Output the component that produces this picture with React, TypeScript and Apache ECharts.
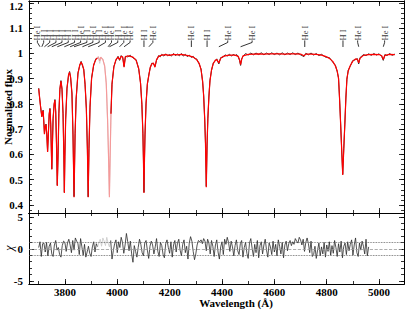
import React, { useEffect, useRef } from "react";
import * as echarts from "echarts";

// ---------- axis ranges / ticks ----------
const XMIN = 3663;
const XMAX = 5095;
const FMIN = 0.368;
const FMAX = 1.207;
const RMIN = -5.5;
const RMAX = 5.6;
const xMajor = [3800, 4000, 4200, 4400, 4600, 4800, 5000];
const xMinor = [3700, 3800, 3900, 4000, 4100, 4200, 4300, 4400, 4500, 4600, 4700, 4800, 4900, 5000];
const fluxTicks = [0.4, 0.5, 0.6, 0.7, 0.8, 0.9, 1, 1.1, 1.2];
const resTicks = [-5, 0, 5];
const resMinorTicks = [-5, -4, -3, -2, -1, 0, 1, 2, 3, 4, 5];

// ---------- model spectrum (red) ----------
const modelWave = [
  3700, 3704, 3707, 3709, 3712, 3715, 3717, 3719, 3722, 3725, 3728, 3731, 3734, 3737, 3740, 3743, 3746, 3748, 3750, 3752,
  3755, 3759, 3762, 3765, 3768, 3771, 3774, 3777, 3781, 3785, 3789, 3793, 3796, 3798, 3800, 3803, 3808, 3814, 3818, 3822,
  3827, 3831, 3835, 3839, 3843, 3850, 3857, 3862, 3867, 3872, 3877, 3882, 3886, 3889, 3892, 3896, 3902, 3910, 3918, 3924,
  3928, 3933, 3937, 3945, 3952, 3958, 3963, 3967, 3970, 3973, 3976, 3980, 3987, 3995, 4003, 4009, 4015, 4021, 4026, 4031,
  4040, 4050, 4060, 4072, 4082, 4089, 4094, 4098, 4100, 4102, 4104, 4106, 4110, 4115, 4121, 4126, 4132, 4138, 4144, 4150,
  4158, 4170, 4185, 4200, 4215, 4230, 4245, 4260, 4275, 4290, 4303, 4313, 4320, 4326, 4330, 4334, 4337, 4340, 4343, 4346,
  4350, 4354, 4360, 4367, 4374, 4380, 4388, 4395, 4405, 4420, 4437, 4450, 4462, 4467, 4471, 4475, 4480, 4500, 4520, 4540,
  4560, 4580, 4600, 4620, 4640, 4660, 4680, 4700, 4713, 4720, 4740, 4760, 4780, 4795, 4810, 4823, 4833, 4840, 4845, 4849,
  4853, 4857, 4861, 4865, 4869, 4873, 4877, 4882, 4889, 4899, 4910, 4917, 4922, 4927, 4940, 4960, 4980, 5000, 5010, 5016,
  5022, 5040, 5060,
];
const modelFlux = [
  0.86, 0.82, 0.79, 0.775, 0.748, 0.77, 0.772, 0.74, 0.68, 0.712, 0.718, 0.68, 0.61, 0.68, 0.76, 0.78, 0.72, 0.63, 0.54, 0.62,
  0.74, 0.8, 0.815, 0.77, 0.64, 0.475, 0.6, 0.76, 0.86, 0.89, 0.86, 0.76, 0.6, 0.447, 0.59, 0.74, 0.86, 0.915, 0.925, 0.905,
  0.84, 0.68, 0.43, 0.68, 0.82, 0.92, 0.955, 0.965, 0.955, 0.935, 0.88, 0.78, 0.62, 0.43, 0.62, 0.79, 0.9, 0.955, 0.975, 0.982,
  0.985, 0.97, 0.985, 0.975, 0.95, 0.88, 0.74, 0.58, 0.43, 0.6, 0.76, 0.88, 0.945, 0.975, 0.985, 0.975, 0.988, 0.985, 0.945, 0.985,
  0.99, 0.988, 0.985, 0.972, 0.94, 0.88, 0.8, 0.68, 0.58, 0.447, 0.58, 0.68, 0.8, 0.88, 0.915, 0.945, 0.958, 0.962, 0.945, 0.975,
  0.988, 0.993, 0.995, 0.992, 0.996, 0.994, 0.996, 0.993, 0.99, 0.985, 0.975, 0.96, 0.935, 0.89, 0.83, 0.74, 0.64, 0.47, 0.64, 0.74,
  0.83, 0.89, 0.935, 0.96, 0.972, 0.975, 0.962, 0.98, 0.988, 0.992, 0.993, 0.993, 0.988, 0.975, 0.955, 0.975, 0.99, 0.996, 0.997, 0.998,
  0.997, 0.998, 0.998, 0.998, 0.997, 0.998, 0.998, 0.997, 0.99, 0.997, 0.997, 0.996, 0.993, 0.988, 0.98, 0.968, 0.95, 0.93, 0.9, 0.82,
  0.72, 0.62, 0.518, 0.62, 0.72, 0.82, 0.9, 0.93, 0.95, 0.968, 0.978, 0.976, 0.962, 0.98, 0.992, 0.995, 0.996, 0.995, 0.99, 0.975,
  0.992, 0.996, 0.995,
];

// ---------- observed spectrum (black) ----------
const obsWave = [
  3700, 3704, 3707, 3709, 3712, 3715, 3717, 3719, 3722, 3725, 3728, 3731, 3734, 3737, 3740, 3743, 3746, 3748, 3750, 3752,
  3755, 3759, 3762, 3765, 3768, 3771, 3774, 3777, 3781, 3785, 3789, 3793, 3796, 3798, 3800, 3803, 3808, 3814, 3818, 3822,
  3827, 3831, 3835, 3839, 3843, 3850, 3857, 3862, 3867, 3872, 3877, 3882, 3886, 3889, 3892, 3896, 3902, 3910, 3918, 3924,
  3928, 3933, 3937, 3945, 3952, 3958, 3963, 3967, 3970, 3973, 3976, 3980, 3987, 3995, 4003, 4009, 4015, 4021, 4026, 4031,
  4040, 4050, 4060, 4072, 4082, 4089, 4094, 4098, 4100, 4102, 4104, 4106, 4110, 4115, 4121, 4126, 4132, 4138, 4144, 4150,
  4158, 4164, 4170, 4178, 4185, 4192, 4200, 4207, 4215, 4222, 4230, 4237, 4245, 4252, 4260, 4267, 4275, 4282, 4290, 4296,
  4303, 4313, 4320, 4326, 4330, 4334, 4337, 4340, 4343, 4346, 4350, 4354, 4360, 4367, 4374, 4380, 4388, 4395, 4405, 4412,
  4420, 4428, 4437, 4444, 4450, 4456, 4462, 4467, 4471, 4475, 4480, 4490, 4500, 4510, 4520, 4530, 4540, 4550, 4560, 4570,
  4580, 4590, 4600, 4610, 4620, 4630, 4640, 4650, 4660, 4670, 4680, 4690, 4700, 4713, 4720, 4730, 4740, 4750, 4760, 4770,
  4780, 4795, 4810, 4823, 4833, 4840, 4845, 4849, 4853, 4857, 4861, 4865, 4869, 4873, 4877, 4882, 4889, 4899, 4910, 4917,
  4922, 4927, 4935, 4940, 4950, 4960, 4970, 4980, 4990, 5000, 5010, 5016, 5022, 5030, 5040, 5050, 5060,
];
const obsFlux = [
  0.862, 0.818, 0.792, 0.772, 0.75, 0.768, 0.775, 0.738, 0.683, 0.71, 0.72, 0.677, 0.612, 0.683, 0.757, 0.782, 0.718, 0.633, 0.542, 0.618,
  0.742, 0.797, 0.817, 0.768, 0.643, 0.478, 0.598, 0.762, 0.857, 0.892, 0.858, 0.762, 0.597, 0.45, 0.592, 0.738, 0.862, 0.912, 0.928, 0.902,
  0.843, 0.677, 0.433, 0.683, 0.818, 0.923, 0.952, 0.968, 0.951, 0.938, 0.877, 0.783, 0.617, 0.432, 0.623, 0.787, 0.903, 0.952, 0.978, 0.98,
  0.988, 0.96, 0.983, 0.978, 0.947, 0.884, 0.736, 0.585, 0.44, 0.596, 0.763, 0.877, 0.948, 0.972, 0.988, 0.972, 0.991, 0.982, 0.948, 0.988,
  0.986, 0.992, 0.982, 0.975, 0.937, 0.883, 0.797, 0.683, 0.577, 0.45, 0.583, 0.677, 0.803, 0.877, 0.918, 0.942, 0.961, 0.959, 0.948, 0.972,
  0.991, 0.986, 0.996, 0.989, 0.998, 0.99, 0.995, 0.989, 0.999, 0.991, 0.997, 0.99, 0.999, 0.989, 0.996, 0.987, 0.993, 0.984, 0.988, 0.979,
  0.978, 0.957, 0.938, 0.887, 0.833, 0.737, 0.643, 0.473, 0.637, 0.743, 0.827, 0.893, 0.932, 0.963, 0.969, 0.978, 0.958, 0.983, 0.985, 0.994,
  0.989, 0.996, 0.989, 0.997, 0.99, 0.995, 0.985, 0.972, 0.952, 0.978, 0.987, 0.999, 0.993, 1.001, 0.994, 1.001, 0.995, 1.002, 0.994, 1.001,
  0.995, 1.002, 0.995, 1.001, 0.994, 1.002, 0.994, 1.001, 0.995, 1.002, 0.995, 1.001, 0.994, 0.987, 1.0, 0.994, 1.001, 0.993, 0.999, 0.991,
  0.996, 0.985, 0.983, 0.965, 0.953, 0.927, 0.903, 0.817, 0.723, 0.617, 0.521, 0.623, 0.717, 0.823, 0.897, 0.933, 0.947, 0.971, 0.975, 0.979,
  0.958, 0.983, 0.99, 0.995, 0.991, 0.998, 0.992, 0.999, 0.993, 0.998, 0.987, 0.972, 0.995, 0.991, 0.999, 0.992, 0.997,
];

// excluded (fit-masked) wavelength interval, drawn lighter
const maskStart = 3924;
const maskEnd = 3976;

// ---------- residuals (chi), one value every 5 A from 3700 A ----------
const resStart = 3700;
const resStep = 5;
const resValues = [
  0.2, 1.1, -1.2, 0.8, 0.9, -0.5, 1.0, -1.1, 0.4, 0.9, -0.8, -1.2, 0.6, 1.3, -0.2, 0.2, -0.9, -1.3, 0.5, 1.2,
  1.0, -0.4, 0.9, 1.5, 0.6, -0.6, 1.3, -0.2, 1.7, 1.2, 0.8, -0.9, 1.6, 0.3, -1.0, 0.7, -1.3, -0.5, 0.4, -0.7,
  -1.2, 0.3, 1.1, -0.5, 0.8, 0.3, 1.0, 1.5, 0.4, 1.7, 1.2, 0.5, 1.8, 0.9, 0.3, 1.3, -1.6, -0.3, 0.8, 1.4,
  -0.6, 1.1, 0.2, 1.8, 1.0, -0.7, 0.6, 2.4, 1.1, -0.3, 1.2, -0.8, -2.1, 0.5, -0.4, -1.3, 0.2, 1.5, 0.7, -0.6,
  -1.1, 0.9, 1.3, -0.2, -1.5, 0.4, 1.2, 0.6, -0.8, 0.3, 1.6, -0.4, -1.2, 1.0, 0.5, -0.9, -1.4, 0.8, 1.4, 0.2,
  -0.7, 1.1, -1.3, 0.6, 1.3, -0.5, 0.9, 1.5, -0.2, -1.1, 0.7, 1.4, -0.6, 0.4, -1.6, 0.9, 1.9, 1.2, -0.4, -1.7,
  -0.8, 0.6, 1.3, 1.1, 1.4, 0.8, 1.6, 1.2, -0.3, 1.5, 0.9, -0.8, 1.3, 0.4, -1.2, 0.6, 1.4, -0.5, -1.6, 0.3,
  1.1, -0.9, 1.5, 0.7, 1.8, 1.0, -0.4, 1.2, 0.3, -1.1, 0.5, 1.4, -0.3, -0.9, 0.8, 1.3, -1.3, 0.2, 1.0, -0.7,
  -1.5, 0.9, 1.6, 0.1, -1.2, 0.7, -0.6, 1.3, -1.4, 0.5, 1.1, -0.8, 0.6, 1.5, -0.2, -1.3, 0.9, 0.3, -0.9, 1.2,
  -0.5, 0.7, -1.1, 1.4, 0.4, -0.8, 1.0, -1.4, 0.6, 1.2, -0.3, 0.8, 1.3, 0.5, 1.1, 0.7, 1.6, 1.2, 0.9, 1.8,
  1.4, 0.6, 1.5, -0.4, 1.0, 1.7, 0.8, -0.6, 1.2, -1.2, -0.9, 0.4, -1.5, -0.2, 0.9, -1.1, 0.3, -0.8, 1.0, -1.3,
  0.6, -0.4, 1.1, -1.0, 0.5, -0.7, 1.3, 0.2, -1.2, 0.8, -0.5, 1.2, -1.4, 0.4, 0.9, -0.9, 1.1, -0.3, 0.7, 1.4,
  -1.0, 0.6, 1.7, -0.6, -1.2, 0.9, -0.2, 1.2, 0.4, -0.8, 1.5, -1.1, 0.3,
];

// ---------- line identifications ----------
const idText = [
  "He I", "H I", "H I", "H I", "H I", "H I", "H I", "He I", "H I", "He I", "H I", "He I", "He I", "H I", "He I", "He I",
  "H I", "He I", "He I", "H I", "He I", "He I", "He I", "H I", "He I", "He I",
];
const idLabelWave = [
  3695, 3719, 3742, 3766, 3789, 3813, 3837, 3860, 3884, 3907, 3931, 3955, 3978, 4002, 4025, 4049,
  4102, 4136, 4283, 4343, 4422, 4515, 4716, 4862, 4918, 5021,
];
const idLineWave = [
  3705, 3712, 3722, 3734, 3750, 3771, 3798, 3820, 3835, 3867, 3889, 3927, 3965, 3970, 4009, 4026,
  4102, 4121, 4283, 4343, 4388, 4471, 4716, 4862, 4922, 5016,
];

const FONT = "'Liberation Serif', 'Times New Roman', serif";

function pairs(w: number[], f: number[], lo: number, hi: number) {
  const out: number[][] = [];
  for (let i = 0; i < w.length; i++) if (w[i] >= lo && w[i] <= hi) out.push([w[i], f[i]]);
  return out;
}

export default function App() {
  const ref = useRef<HTMLDivElement>(null);
  useEffect(() => {
    if (!ref.current) return;
    const chart = echarts.init(ref.current, null, { renderer: "svg" });

    const axisLine = { show: true, onZero: false, lineStyle: { color: "#000", width: 1 } };
    const lab = { fontFamily: FONT, fontWeight: "bold" as const, fontSize: 11, color: "#000" };

    const xa = (grid: number, pos: string, vals: number[], len: number, labels: boolean) => ({
      type: "value",
      gridIndex: grid,
      position: pos,
      min: XMIN,
      max: XMAX,
      axisLine,
      axisTick: { show: true, inside: true, length: len, customValues: vals, lineStyle: { color: "#000", width: 0.8 } },
      axisLabel: labels
        ? { show: true, customValues: vals, formatter: (v: number) => String(v), margin: 2, ...lab }
        : { show: false },
      splitLine: { show: false },
    });
    const ya = (grid: number, pos: string, min: number, max: number, vals: number[], len: number, labels: boolean) => ({
      type: "value",
      gridIndex: grid,
      position: pos,
      min,
      max,
      axisLine,
      axisTick: { show: true, inside: true, length: len, customValues: vals, lineStyle: { color: "#000", width: 0.8 } },
      axisLabel: labels
        ? {
            show: true,
            customValues: vals,
            margin: 6,
            formatter: (v: number) => (Math.abs(v - 1.2) < 1e-6 ? "{t|1.2}" : Math.abs(v - 1) < 1e-6 ? "1" : grid === 0 ? v.toFixed(1) : String(v)),
            rich: { t: { ...lab, padding: [7, 0, 0, 0] } },
            ...lab,
          }
        : { show: false },
      splitLine: { show: false },
    });

    const fluxMinor: number[] = [];
    for (let i = 19; i <= 60; i++) fluxMinor.push(+(i * 0.02).toFixed(2));

    const resData = resValues.map((v, i) => [resStart + i * resStep, v]);
    const resA = resData.filter((d) => d[0] <= maskStart + 1);
    const resM = resData.filter((d) => d[0] >= maskStart + 1 && d[0] <= maskEnd - 1);
    const resB = resData.filter((d) => d[0] >= maskEnd - 1);

    const idData = idText.map((t, i) => [idLabelWave[i], 1.051, t]);
    const connectors = idText.map((_, i) => ({
      coords:
        idLabelWave[i] === idLineWave[i]
          ? [
              [idLabelWave[i], 1.051],
              [idLineWave[i], 1.025],
            ]
          : [
              [idLabelWave[i], 1.051],
              [idLabelWave[i], 1.043],
              [idLineWave[i], 1.026],
            ],
    }));

    const lineBase = { type: "line", showSymbol: false, symbol: "none", silent: true };

    chart.setOption({
      animation: false,
      grid: [
        { left: 29, right: 3, top: 1, height: 212 },
        { left: 29, right: 3, top: 213, height: 71 },
      ],
      xAxis: [
        xa(0, "bottom", xMajor, 5, false),
        xa(1, "bottom", xMajor, 5, true),
        xa(0, "bottom", xMinor, 3, false),
        xa(0, "top", xMajor, 5, false),
        xa(0, "top", xMinor, 3, false),
        xa(1, "bottom", xMinor, 3, false),
        xa(1, "top", xMajor, 5, false),
        xa(1, "top", xMinor, 3, false),
      ],
      yAxis: [
        ya(0, "left", FMIN, FMAX, fluxTicks, 5, true),
        ya(1, "left", RMIN, RMAX, resTicks, 5, true),
        ya(0, "left", FMIN, FMAX, fluxMinor, 3, false),
        ya(0, "right", FMIN, FMAX, fluxTicks, 5, false),
        ya(0, "right", FMIN, FMAX, fluxMinor, 3, false),
        ya(1, "left", RMIN, RMAX, resMinorTicks, 3, false),
        ya(1, "right", RMIN, RMAX, resTicks, 5, false),
        ya(1, "right", RMIN, RMAX, resMinorTicks, 3, false),
      ],
      series: [
        { ...lineBase, xAxisIndex: 0, yAxisIndex: 0, data: pairs(obsWave, obsFlux, 0, maskStart), lineStyle: { color: "#1a1a1a", width: 0.9 }, z: 2 },
        { ...lineBase, xAxisIndex: 0, yAxisIndex: 0, data: pairs(obsWave, obsFlux, maskStart, maskEnd), lineStyle: { color: "#d0d0d0", width: 0.9 }, z: 2 },
        { ...lineBase, xAxisIndex: 0, yAxisIndex: 0, data: pairs(obsWave, obsFlux, maskEnd, 9999), lineStyle: { color: "#1a1a1a", width: 0.9 }, z: 2 },
        { ...lineBase, xAxisIndex: 0, yAxisIndex: 0, data: pairs(modelWave, modelFlux, 0, maskStart), lineStyle: { color: "#ff0000", width: 1.2 }, z: 3 },
        { ...lineBase, xAxisIndex: 0, yAxisIndex: 0, data: pairs(modelWave, modelFlux, maskStart, maskEnd), lineStyle: { color: "#f59a9a", width: 1.2 }, z: 3 },
        { ...lineBase, xAxisIndex: 0, yAxisIndex: 0, data: pairs(modelWave, modelFlux, maskEnd, 9999), lineStyle: { color: "#ff0000", width: 1.2 }, z: 3 },
        {
          type: "lines",
          coordinateSystem: "cartesian2d",
          xAxisIndex: 0,
          yAxisIndex: 0,
          polyline: true,
          silent: true,
          data: connectors,
          lineStyle: { color: "#000", width: 0.8, opacity: 1 },
          z: 4,
        },
        {
          type: "scatter",
          xAxisIndex: 0,
          yAxisIndex: 0,
          symbolSize: 0,
          silent: true,
          data: idData,
          label: {
            show: true,
            position: "inside",
            rotate: 90,
            align: "left",
            verticalAlign: "middle",
            formatter: (p: any) => p.data[2],
            fontFamily: FONT,
            fontSize: 8.5,
            color: "#000",
          },
          z: 5,
        },
        {
          ...lineBase,
          xAxisIndex: 1,
          yAxisIndex: 1,
          data: resA,
          lineStyle: { color: "#2a2a2a", width: 0.8 },
          z: 3,
          markLine: {
            silent: true,
            symbol: "none",
            label: { show: false },
            data: [
              { yAxis: 1, lineStyle: { type: "dotted", color: "#555", width: 0.8 } },
              { yAxis: -1, lineStyle: { type: "dotted", color: "#555", width: 0.8 } },
              { yAxis: 0, lineStyle: { type: "dashed", color: "#999", width: 0.8 } },
            ],
          },
        },
        { ...lineBase, xAxisIndex: 1, yAxisIndex: 1, data: resM, lineStyle: { color: "#c8c8c8", width: 0.8 }, z: 3 },
        { ...lineBase, xAxisIndex: 1, yAxisIndex: 1, data: resB, lineStyle: { color: "#2a2a2a", width: 0.8 }, z: 3 },
      ],
      graphic: [
        {
          type: "text",
          x: 8,
          y: 107,
          rotation: Math.PI / 2,
          style: { text: "Normalized flux", fontFamily: FONT, fontWeight: "bold", fontSize: 11, fill: "#000", align: "center", verticalAlign: "middle" },
        },
        {
          type: "text",
          x: 236,
          y: 303,
          style: { text: "Wavelength (Å)", fontFamily: FONT, fontWeight: "bold", fontSize: 11, fill: "#000", align: "center", verticalAlign: "middle" },
        },
        {
          type: "text",
          x: 9,
          y: 248,
          rotation: Math.PI / 2,
          style: { text: "χ", fontFamily: FONT, fontStyle: "italic", fontSize: 12, fill: "#000", align: "center", verticalAlign: "middle" },
        },
      ],
    });
    return () => chart.dispose();
  }, []);
  return <div ref={ref} style={{ position: "fixed", left: 0, top: 0, width: 407, height: 311, background: "#fff" }} />;
}
